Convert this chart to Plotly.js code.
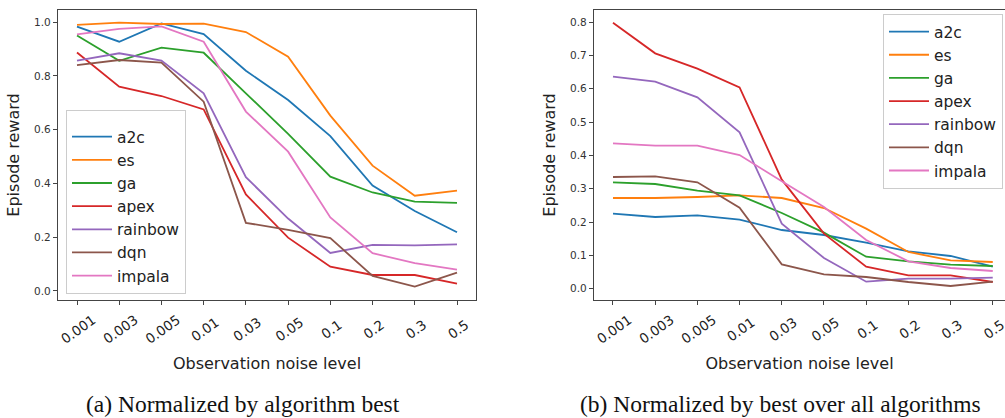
<!DOCTYPE html>
<html>
<head>
<meta charset="utf-8">
<script src="https://cdn.plot.ly/plotly-3.0.1.min.js"></script>
<style>html,body{margin:0;padding:0;background:#fff;}#chart{width:1005px;height:418px;}</style>
</head>
<body>
<div id="chart"></div>
<script>
const noiseLevels = ["0.001","0.003","0.005","0.01","0.03","0.05","0.1","0.2","0.3","0.5"];
const algorithms = ["a2c","es","ga","apex","rainbow","dqn","impala"];
const colors = ["#1f77b4","#ff7f0e","#2ca02c","#d62728","#9467bd","#8c564b","#e377c2"];

// (a) Normalized by algorithm best
const a_a2c     = [0.983,0.927,0.995,0.955,0.819,0.710,0.576,0.392,0.297,0.218];
const a_es      = [0.990,0.998,0.993,0.994,0.963,0.871,0.652,0.466,0.354,0.373];
const a_ga      = [0.950,0.856,0.905,0.886,0.735,0.584,0.425,0.366,0.332,0.327];
const a_apex    = [0.887,0.760,0.725,0.675,0.359,0.198,0.090,0.059,0.059,0.027];
const a_rainbow = [0.857,0.884,0.857,0.735,0.423,0.269,0.141,0.171,0.169,0.173];
const a_dqn     = [0.840,0.859,0.849,0.704,0.253,0.227,0.196,0.056,0.016,0.068];
const a_impala  = [0.954,0.975,0.984,0.927,0.667,0.518,0.273,0.140,0.103,0.079];

// (b) Normalized by best over all algorithms
const b_a2c     = [0.225,0.215,0.220,0.207,0.176,0.161,0.138,0.112,0.098,0.066];
const b_es      = [0.272,0.272,0.275,0.280,0.272,0.242,0.180,0.110,0.085,0.080];
const b_ga      = [0.319,0.314,0.294,0.280,0.227,0.168,0.096,0.082,0.072,0.068];
const b_apex    = [0.798,0.706,0.660,0.604,0.327,0.165,0.066,0.040,0.040,0.020];
const b_rainbow = [0.636,0.621,0.574,0.469,0.195,0.092,0.021,0.030,0.030,0.033];
const b_dqn     = [0.335,0.337,0.319,0.243,0.073,0.043,0.035,0.020,0.008,0.021];
const b_impala  = [0.436,0.429,0.429,0.401,0.322,0.245,0.146,0.082,0.062,0.053];

const seriesA = [a_a2c,a_es,a_ga,a_apex,a_rainbow,a_dqn,a_impala];
const seriesB = [b_a2c,b_es,b_ga,b_apex,b_rainbow,b_dqn,b_impala];

const captionA = "(a) Normalized by algorithm best";
const captionB = "(b) Normalized by best over all algorithms";
const xTitle = "Observation noise level";
const yTitle = "Episode reward";

const W = 1005, H = 418;
const px = v => v / W;
const py = v => 1 - v / H;

// Tick labels padded so that shorter labels sit centred under their tick (as in the original)
const maxLen = Math.max(...noiseLevels.map(s => s.length));
const xTickText = noiseLevels.map(s => s + "\u00a0".repeat(maxLen - s.length));

const traces = [];
algorithms.forEach((name, i) => {
  traces.push({x: noiseLevels, y: seriesA[i], name: name, type: 'scatter', mode: 'lines',
    line: {color: colors[i], width: 1.8}, xaxis: 'x', yaxis: 'y', legend: 'legend'});
});
algorithms.forEach((name, i) => {
  traces.push({x: noiseLevels, y: seriesB[i], name: name, type: 'scatter', mode: 'lines',
    line: {color: colors[i], width: 1.8}, xaxis: 'x2', yaxis: 'y2', legend: 'legend2'});
});

const FONT = 'DejaVu Sans, sans-serif';
const axisCommon = {
  showgrid: false, zeroline: false, showline: true, linecolor: '#444', linewidth: 1.2,
  ticks: 'outside', ticklen: 4, tickwidth: 1, tickcolor: '#444'
};
const xCommon = Object.assign({}, axisCommon, {
  type: 'category', tickangle: -35, mirror: true, ticklabelshift: 16, ticklabelstandoff: 2,
  tickvals: noiseLevels, ticktext: xTickText,
  tickfont: {family: FONT, size: 13.5, color: '#222'},
  title: {text: xTitle, font: {family: FONT, size: 16, color: '#222'}, standoff: 12}
});
const yCommon = Object.assign({}, axisCommon, {
  tickfont: {family: FONT, size: 10.5, color: '#333'},
  title: {text: yTitle, font: {family: FONT, size: 16, color: '#222'}, standoff: 10}
});

const legendCommon = {
  font: {family: FONT, size: 15.5, color: '#222'},
  bgcolor: 'rgba(255,255,255,0.85)', bordercolor: '#ccc', borderwidth: 1,
  xanchor: 'left', yanchor: 'top', tracegroupgap: 0, itemwidth: 40
};

const layout = {
  width: W, height: H,
  margin: {l: 0, r: 0, t: 0, b: 0},
  paper_bgcolor: '#fff', plot_bgcolor: '#fff',
  showlegend: true,
  xaxis: Object.assign({}, xCommon, {domain: [px(58), px(476)], range: [-0.45, 9.45], anchor: 'y'}),
  yaxis: Object.assign({}, yCommon, {domain: [py(300), py(10)], range: [-0.034, 1.045], mirror: true,
    tickvals: [0,0.2,0.4,0.6,0.8,1.0], ticktext: ['0.0','0.2','0.4','0.6','0.8','1.0'], anchor: 'x'}),
  xaxis2: Object.assign({}, xCommon, {domain: [px(594), 1], range: [-0.45, 9.29], anchor: 'y2'}),
  yaxis2: Object.assign({}, yCommon, {domain: [py(300), py(10)], range: [-0.034, 0.836], mirror: false,
    tickvals: [0,0.1,0.2,0.3,0.4,0.5,0.6,0.7,0.8], ticktext: ['0.0','0.1','0.2','0.3','0.4','0.5','0.6','0.7','0.8'], anchor: 'x2'}),
  legend: Object.assign({}, legendCommon, {x: px(66), y: py(110),
    title: {text: ' ', font: {family: FONT, size: 7}}}),
  legend2: Object.assign({}, legendCommon, {x: px(883), y: py(14)}),
  annotations: [
    {text: captionA, xref: 'paper', yref: 'paper', x: px(243), y: py(404), xanchor: 'center', yanchor: 'middle', showarrow: false,
     font: {family: 'Liberation Serif, Times New Roman, serif', size: 23.5, color: '#111'}},
    {text: captionB, xref: 'paper', yref: 'paper', x: px(780), y: py(404), xanchor: 'center', yanchor: 'middle', showarrow: false,
     font: {family: 'Liberation Serif, Times New Roman, serif', size: 23.5, color: '#111'}}
  ]
};

Plotly.newPlot('chart', traces, layout, {staticPlot: true, displayModeBar: false});
</script>
</body>
</html>
